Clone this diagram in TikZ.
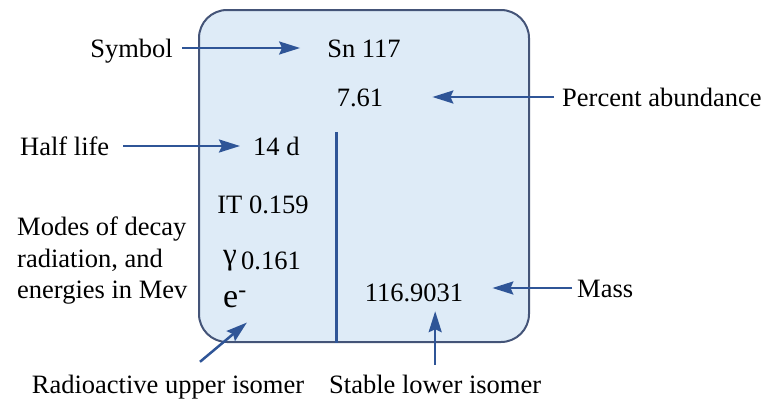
\documentclass[tikz,border=0pt]{standalone}
\usepackage{fontspec}
\setmainfont{Liberation Serif}
\usetikzlibrary{arrows.meta, positioning, calc}
\definecolor{colCard}  {RGB}{222, 235, 247}
\definecolor{colEdge}  {RGB}{ 68,  84, 120}
\definecolor{colPtr}   {RGB}{ 47,  85, 151}
\definecolor{colInk}   {RGB}{  0,   0,   0}
\tikzset{
  card/.style={
    rectangle, rounded corners=28pt,
    draw=colEdge, fill=colCard, line width=2pt,
    minimum width=330pt, minimum height=332pt, inner sep=0pt
  },
  txt/.style={
    font=\fontsize{26.5}{31.5}\selectfont, text=colInk,
    inner sep=0pt, text height=19pt, text depth=1pt
  },
  multitxt/.style={
    font=\fontsize{26.5}{31.5}\selectfont, text=colInk,
    inner sep=0pt, align=left
  },
  ptr/.style={
    -{Stealth[length=21pt, width=13pt, inset=3pt]},
    line width=2.5pt, draw=colPtr
  },
  divider/.style={line width=3pt, draw=colPtr},
}

\begin{document}
\begin{tikzpicture}[x=1pt, y=-1pt]
\useasboundingbox (0,0) rectangle (766,399);

%% ══════════════════════════════════════════════════════════════
%%  ISOTOPE CARD
%% ══════════════════════════════════════════════════════════════
\node[card] (card) at (364,176) {};
\coordinate (divtop) at (336,132);
\draw[divider] (divtop) -- (divtop |- card.south);

% values inside the card
\node[txt] (sym) at (364,48) {Sn 117};
\node[txt] (abund) at (360,97) {7.61};
\node[txt, anchor=west] (halflife) at (253,146) {14 d};
\node[txt] (it) at (263,204) {IT 0.159};
\node[txt] (gamma) at (262,260)
  {\raisebox{5pt}{\fontsize{31}{31}\selectfont γ}\,0.161};
\node[font=\fontsize{34}{40}\selectfont, inner sep=0pt, anchor=base west]
  (eminus) at (223,307) {e\textsuperscript{-}};
\node[txt] (mass) at (414,292) {116.9031};

%% ══════════════════════════════════════════════════════════════
%%  LABELS  (around the card)
%% ══════════════════════════════════════════════════════════════
\node[txt, anchor=east] (symlbl) at (173,48) {Symbol};
\node[txt, anchor=west] (abundlbl) at (562,97) {Percent abundance};
\node[txt, anchor=west] (halflbl) at (20,146) {Half life};
\node[multitxt, anchor=north west] (modeslbl) at (17,217)
  {Modes of decay\\radiation, and\\energies in Mev};
\node[txt, anchor=west] (masslbl) at (577,288) {Mass};
\node[txt] (upperlbl) at (168,384) {Radioactive upper isomer};
\node[txt, anchor=west] (lowerlbl) at (329,384) {Stable lower isomer};

%% ── arrows ─────────────────────────────────────────────────
\draw[ptr, shorten <=9pt, shorten >=27pt] (symlbl.east) -- (sym.west);
\draw[ptr, shorten <=8pt, shorten >=49pt] (abundlbl.west) -- (abund.east);
\draw[ptr, shorten <=14pt, shorten >=13pt] (halflbl.east) -- (halflife.west);
\draw[ptr, shorten <=5pt, shorten >=29pt] (masslbl.west) -- (masslbl.west -| mass.east);
\draw[ptr, shorten <=9pt, shorten >=9pt] (lowerlbl.north) -- (lowerlbl.north |- mass.south);
\draw[ptr] ([xshift=32pt, yshift=12pt]upperlbl.north) -- ([yshift=-15pt]eminus.south east);

\end{tikzpicture}
\end{document}
